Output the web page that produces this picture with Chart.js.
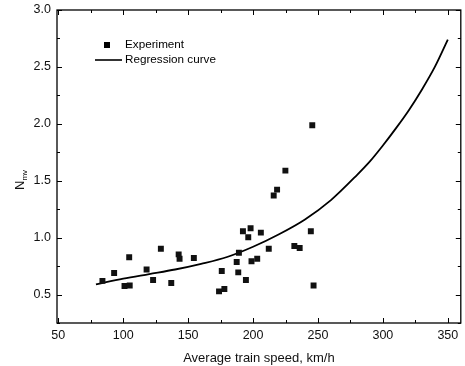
<!DOCTYPE html>
<html>
<head>
<meta charset="utf-8">
<script src="https://cdn.jsdelivr.net/npm/chart.js@4.4.1/dist/chart.umd.min.js"></script>
<style>
  html, body { margin: 0; padding: 0; background: #fff; }
  #wrap { width: 465px; height: 366px; }
</style>
</head>
<body>
<div id="wrap"><canvas id="grafico" width="465" height="366"></canvas></div>
<script>
// ── Dados ───────────────────────────────────────────────────────
const velocidades = [84, 93, 101, 105, 104.6, 118, 123, 129, 137, 142.7, 143.4, 154.4,
                     173.8, 175.9, 177.9, 187.4, 189.1, 188.6, 192.2, 196.3, 198.1, 198.8,
                     194.5, 203.2, 206, 212.1, 215.9, 218.5, 224.9, 231.8, 235.9, 244.5,
                     245.6, 246.6];
const nmvExperimento = [0.62, 0.69, 0.575, 0.58, 0.827, 0.72, 0.628, 0.903, 0.601, 0.853, 0.815, 0.821,
                        0.528, 0.707, 0.548, 0.786, 0.868, 0.695, 1.056, 1.003, 1.082, 0.792,
                        0.628, 0.815, 1.044, 0.903, 1.37, 1.422, 1.589, 0.927, 0.909, 1.056,
                        1.988, 0.58];

const curvaX = [79, 100, 120, 140, 160, 180, 200, 220, 240, 260, 280, 290, 300, 310, 320, 330, 340, 350];
const curvaY = [0.59, 0.64, 0.68, 0.72, 0.77, 0.83, 0.92, 1.03, 1.16, 1.33, 1.55, 1.67, 1.81, 1.96, 2.12, 2.30, 2.50, 2.74];

const ticksX = [50, 100, 150, 200, 250, 300, 350];
const ticksY = [0.5, 1.0, 1.5, 2.0, 2.5, 3.0];
const legendas = ['Experiment', 'Regression curve'];

const FONTE = "'Liberation Sans', Arial, sans-serif";

// ── Moldura, marcas internas, título Y e legenda ────────────────
const pluginMoldura = {
    id: 'moldura',
    afterDraw(chart) {
        const { ctx, chartArea: a, scales } = chart;
        const sx = scales.x, sy = scales.y;
        ctx.save();
        ctx.strokeStyle = '#000';
        ctx.lineWidth = 1.3;
        ctx.strokeRect(a.left, a.top, a.right - a.left, a.bottom - a.top);

        ctx.lineWidth = 1;
        ctx.beginPath();
        for (let v = 50; v <= 360; v += 25) {
            const px = Math.round(sx.getPixelForValue(v)) + 0.5;
            const len = v % 50 === 0 ? 5 : 3;
            ctx.moveTo(px, a.bottom); ctx.lineTo(px, a.bottom - len);
            ctx.moveTo(px, a.top);    ctx.lineTo(px, a.top + len);
        }
        for (let v = 0.25; v <= 3.0001; v += 0.25) {
            const py = Math.round(sy.getPixelForValue(v)) + 0.5;
            const len = Math.abs(v * 2 - Math.round(v * 2)) < 1e-6 ? 5 : 3;
            ctx.moveTo(a.left, py);  ctx.lineTo(a.left + len, py);
            ctx.moveTo(a.right, py); ctx.lineTo(a.right - len, py);
        }
        ctx.stroke();

        // título do eixo Y: N com subscrito "mv"
        ctx.translate(19, 182);
        ctx.rotate(-Math.PI / 2);
        ctx.fillStyle = '#111';
        ctx.textBaseline = 'alphabetic';
        ctx.font = '13px ' + FONTE;
        ctx.fillText('N', -8, 5);
        const wN = ctx.measureText('N').width;
        ctx.font = '8px ' + FONTE;
        ctx.fillText('mv', -8 + wN, 8);
        ctx.setTransform(1, 0, 0, 1, 0, 0);

        // legenda
        ctx.font = '11.7px ' + FONTE;
        ctx.textBaseline = 'middle';
        ctx.fillStyle = '#000';
        ctx.fillRect(104, 42, 6, 6);
        ctx.fillText(legendas[0], 125, 45);
        ctx.beginPath();
        ctx.lineWidth = 1.6;
        ctx.moveTo(95, 60); ctx.lineTo(122, 60);
        ctx.stroke();
        ctx.fillText(legendas[1], 125, 60);
        ctx.restore();
    }
};

new Chart(document.getElementById('grafico').getContext('2d'), {
    type: 'scatter',
    data: {
        datasets: [
            {
                label: legendas[0],
                data: velocidades.map((v, i) => ({ x: v, y: nmvExperimento[i] })),
                pointStyle: 'rect',
                pointRadius: 4.2,
                backgroundColor: '#111',
                borderColor: '#111',
                borderWidth: 0
            },
            {
                label: legendas[1],
                type: 'line',
                data: curvaX.map((v, i) => ({ x: v, y: curvaY[i] })),
                borderColor: '#000',
                borderWidth: 1.8,
                pointRadius: 0,
                fill: false,
                cubicInterpolationMode: 'monotone'
            }
        ]
    },
    options: {
        responsive: false,
        animation: false,
        layout: { padding: { top: 10, right: 2, left: 0, bottom: 0 } },
        plugins: { legend: { display: false }, tooltip: { enabled: false } },
        scales: {
            x: {
                type: 'linear',
                min: 49, max: 360,
                afterBuildTicks: s => { s.ticks = ticksX.map(v => ({ value: v })); },
                afterFit: s => { s.height = 43; s.paddingLeft = 0; s.paddingRight = 0; },
                grid: { display: false, drawTicks: false },
                border: { display: false },
                ticks: { color: '#111', font: { size: 12.5, family: FONTE }, padding: 5, maxRotation: 0, autoSkip: false },
                title: { display: true, text: 'Average train speed, km/h', color: '#111',
                         font: { size: 13, family: FONTE }, padding: { top: 3, bottom: 0 } }
            },
            y: {
                type: 'linear',
                min: 0.25, max: 3.0,
                afterBuildTicks: s => { s.ticks = ticksY.map(v => ({ value: v })); },
                afterFit: s => { s.width = 57; s.paddingTop = 0; s.paddingBottom = 0; },
                grid: { display: false, drawTicks: false },
                border: { display: false },
                ticks: { color: '#111', font: { size: 12.5, family: FONTE }, padding: 6,
                         callback: v => v.toFixed(1) }
            }
        }
    },
    plugins: [pluginMoldura]
});
</script>
</body>
</html>
